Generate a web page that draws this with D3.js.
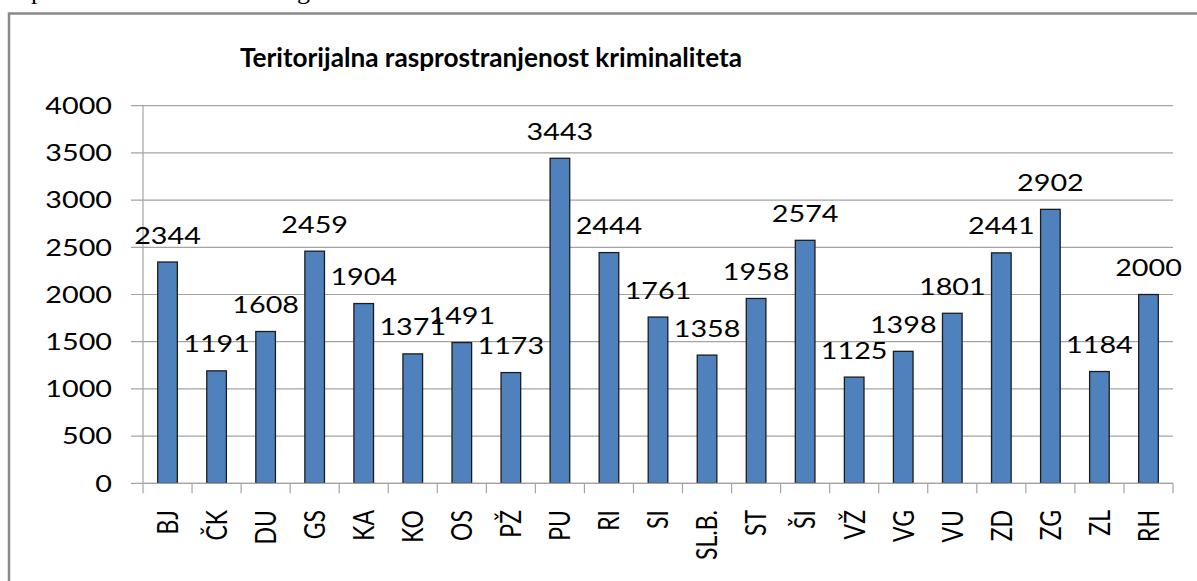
<!DOCTYPE html>
<html>
<head>
<meta charset="utf-8">
<script src="https://cdn.jsdelivr.net/npm/d3@7"></script>
<style>
  body { margin: 0; background: #fff; }
  text { font-family: Lato, "Open Sans", sans-serif; fill: #000; }
</style>
</head>
<body>
<div id="chart"></div>
<script>
// data
var categories = ["BJ", "ČK", "DU", "GS", "KA", "KO", "OS", "PŽ", "PU", "RI", "SI",
                  "SL.B.", "ST", "ŠI", "VŽ", "VG", "VU", "ZD", "ZG", "ZL", "RH"];
var values = [2344, 1191, 1608, 2459, 1904, 1371, 1491, 1173, 3443, 2444, 1761,
              1358, 1958, 2574, 1125, 1398, 1801, 2441, 2902, 1184, 2000];
var yTicks = [0, 500, 1000, 1500, 2000, 2500, 3000, 3500, 4000];
var title = "Teritorijalna rasprostranjenost kriminaliteta";

var W = 1197, H = 581;
var plot = { left: 143, right: 1173, top: 105.7, bottom: 483.3 };
var stretch = 1.25; // source picture is widened sideways

var svg = d3.select("#chart").append("svg")
    .attr("width", W)
    .attr("height", H);

// bits of the document text line above the chart (only descenders visible)
svg.append("text").attr("x", 31).attr("y", -1.5)
    .style("font-family", "'Liberation Serif', serif").style("font-size", "26px").text("p");
svg.append("text").attr("x", 297).attr("y", -1.5)
    .style("font-family", "'Liberation Serif', serif").style("font-size", "26px").text("g");

// chart frame
svg.append("rect")
    .attr("x", 9).attr("y", 13.5)
    .attr("width", W + 20).attr("height", H + 20)
    .attr("fill", "none")
    .attr("stroke", "#8a8a8a")
    .attr("stroke-width", 2.5);

var x = d3.scaleBand()
    .domain(categories)
    .range([plot.left, plot.right])
    .paddingInner(0.6)
    .paddingOuter(0.3);

var y = d3.scaleLinear()
    .domain([0, 4000])
    .range([plot.bottom, plot.top]);

// title
svg.append("text")
    .attr("x", 491).attr("y", 67)
    .attr("text-anchor", "middle")
    .attr("textLength", 502)
    .attr("lengthAdjust", "spacingAndGlyphs")
    .style("font-weight", "bold")
    .style("font-size", "26px")
    .text(title);

// gridlines
svg.append("g").selectAll("line")
    .data(yTicks)
    .enter().append("line")
    .attr("x1", plot.left - 12).attr("x2", plot.right)
    .attr("y1", function (d) { return y(d); })
    .attr("y2", function (d) { return y(d); })
    .attr("stroke", "#a3a3a3")
    .attr("stroke-width", 1.2);

// y axis line
svg.append("line")
    .attr("x1", plot.left).attr("x2", plot.left)
    .attr("y1", plot.top).attr("y2", plot.bottom)
    .attr("stroke", "#a3a3a3").attr("stroke-width", 1.2);

// y tick labels
svg.append("g").selectAll("text")
    .data(yTicks)
    .enter().append("text")
    .attr("transform", function (d) {
        return "translate(112," + y(d) + ") scale(" + stretch + ",1)";
    })
    .attr("dy", "0.36em")
    .attr("text-anchor", "end")
    .style("font-size", "23px")
    .text(function (d) { return d; });

// x category boundary ticks
var bounds = d3.range(categories.length + 1).map(function (i) {
    return plot.left + i * x.step();
});
svg.append("g").selectAll("line")
    .data(bounds)
    .enter().append("line")
    .attr("x1", function (d) { return d; })
    .attr("x2", function (d) { return d; })
    .attr("y1", plot.bottom).attr("y2", plot.bottom + 10)
    .attr("stroke", "#a3a3a3").attr("stroke-width", 1.2);

// bars
svg.append("g").selectAll("rect")
    .data(values)
    .enter().append("rect")
    .attr("x", function (d, i) { return x(categories[i]); })
    .attr("y", function (d) { return y(d); })
    .attr("width", x.bandwidth())
    .attr("height", function (d) { return plot.bottom - y(d); })
    .attr("fill", "#4f81bd")
    .attr("stroke", "#1c1c1c")
    .attr("stroke-width", 1.3);

// value labels
svg.append("g").selectAll("text")
    .data(values)
    .enter().append("text")
    .attr("transform", function (d, i) {
        return "translate(" + (x(categories[i]) + x.bandwidth() / 2) + "," + (y(d) - 18.5) + ") scale(" + stretch + ",1)";
    })
    .attr("text-anchor", "middle")
    .style("font-size", "23px")
    .text(function (d) { return d; });

// x axis line
svg.append("line")
    .attr("x1", plot.left).attr("x2", plot.right)
    .attr("y1", plot.bottom).attr("y2", plot.bottom)
    .attr("stroke", "#a3a3a3").attr("stroke-width", 1.2);

// category labels, rotated
svg.append("g").selectAll("text")
    .data(categories)
    .enter().append("text")
    .attr("transform", function (d) {
        return "translate(" + (x(d) + x.bandwidth() / 2) + ",510) scale(" + stretch + ",1) rotate(-90)";
    })
    .attr("dy", "0.36em")
    .attr("text-anchor", "end")
    .style("font-size", "23px")
    .text(function (d) { return d; });
</script>
</body>
</html>
